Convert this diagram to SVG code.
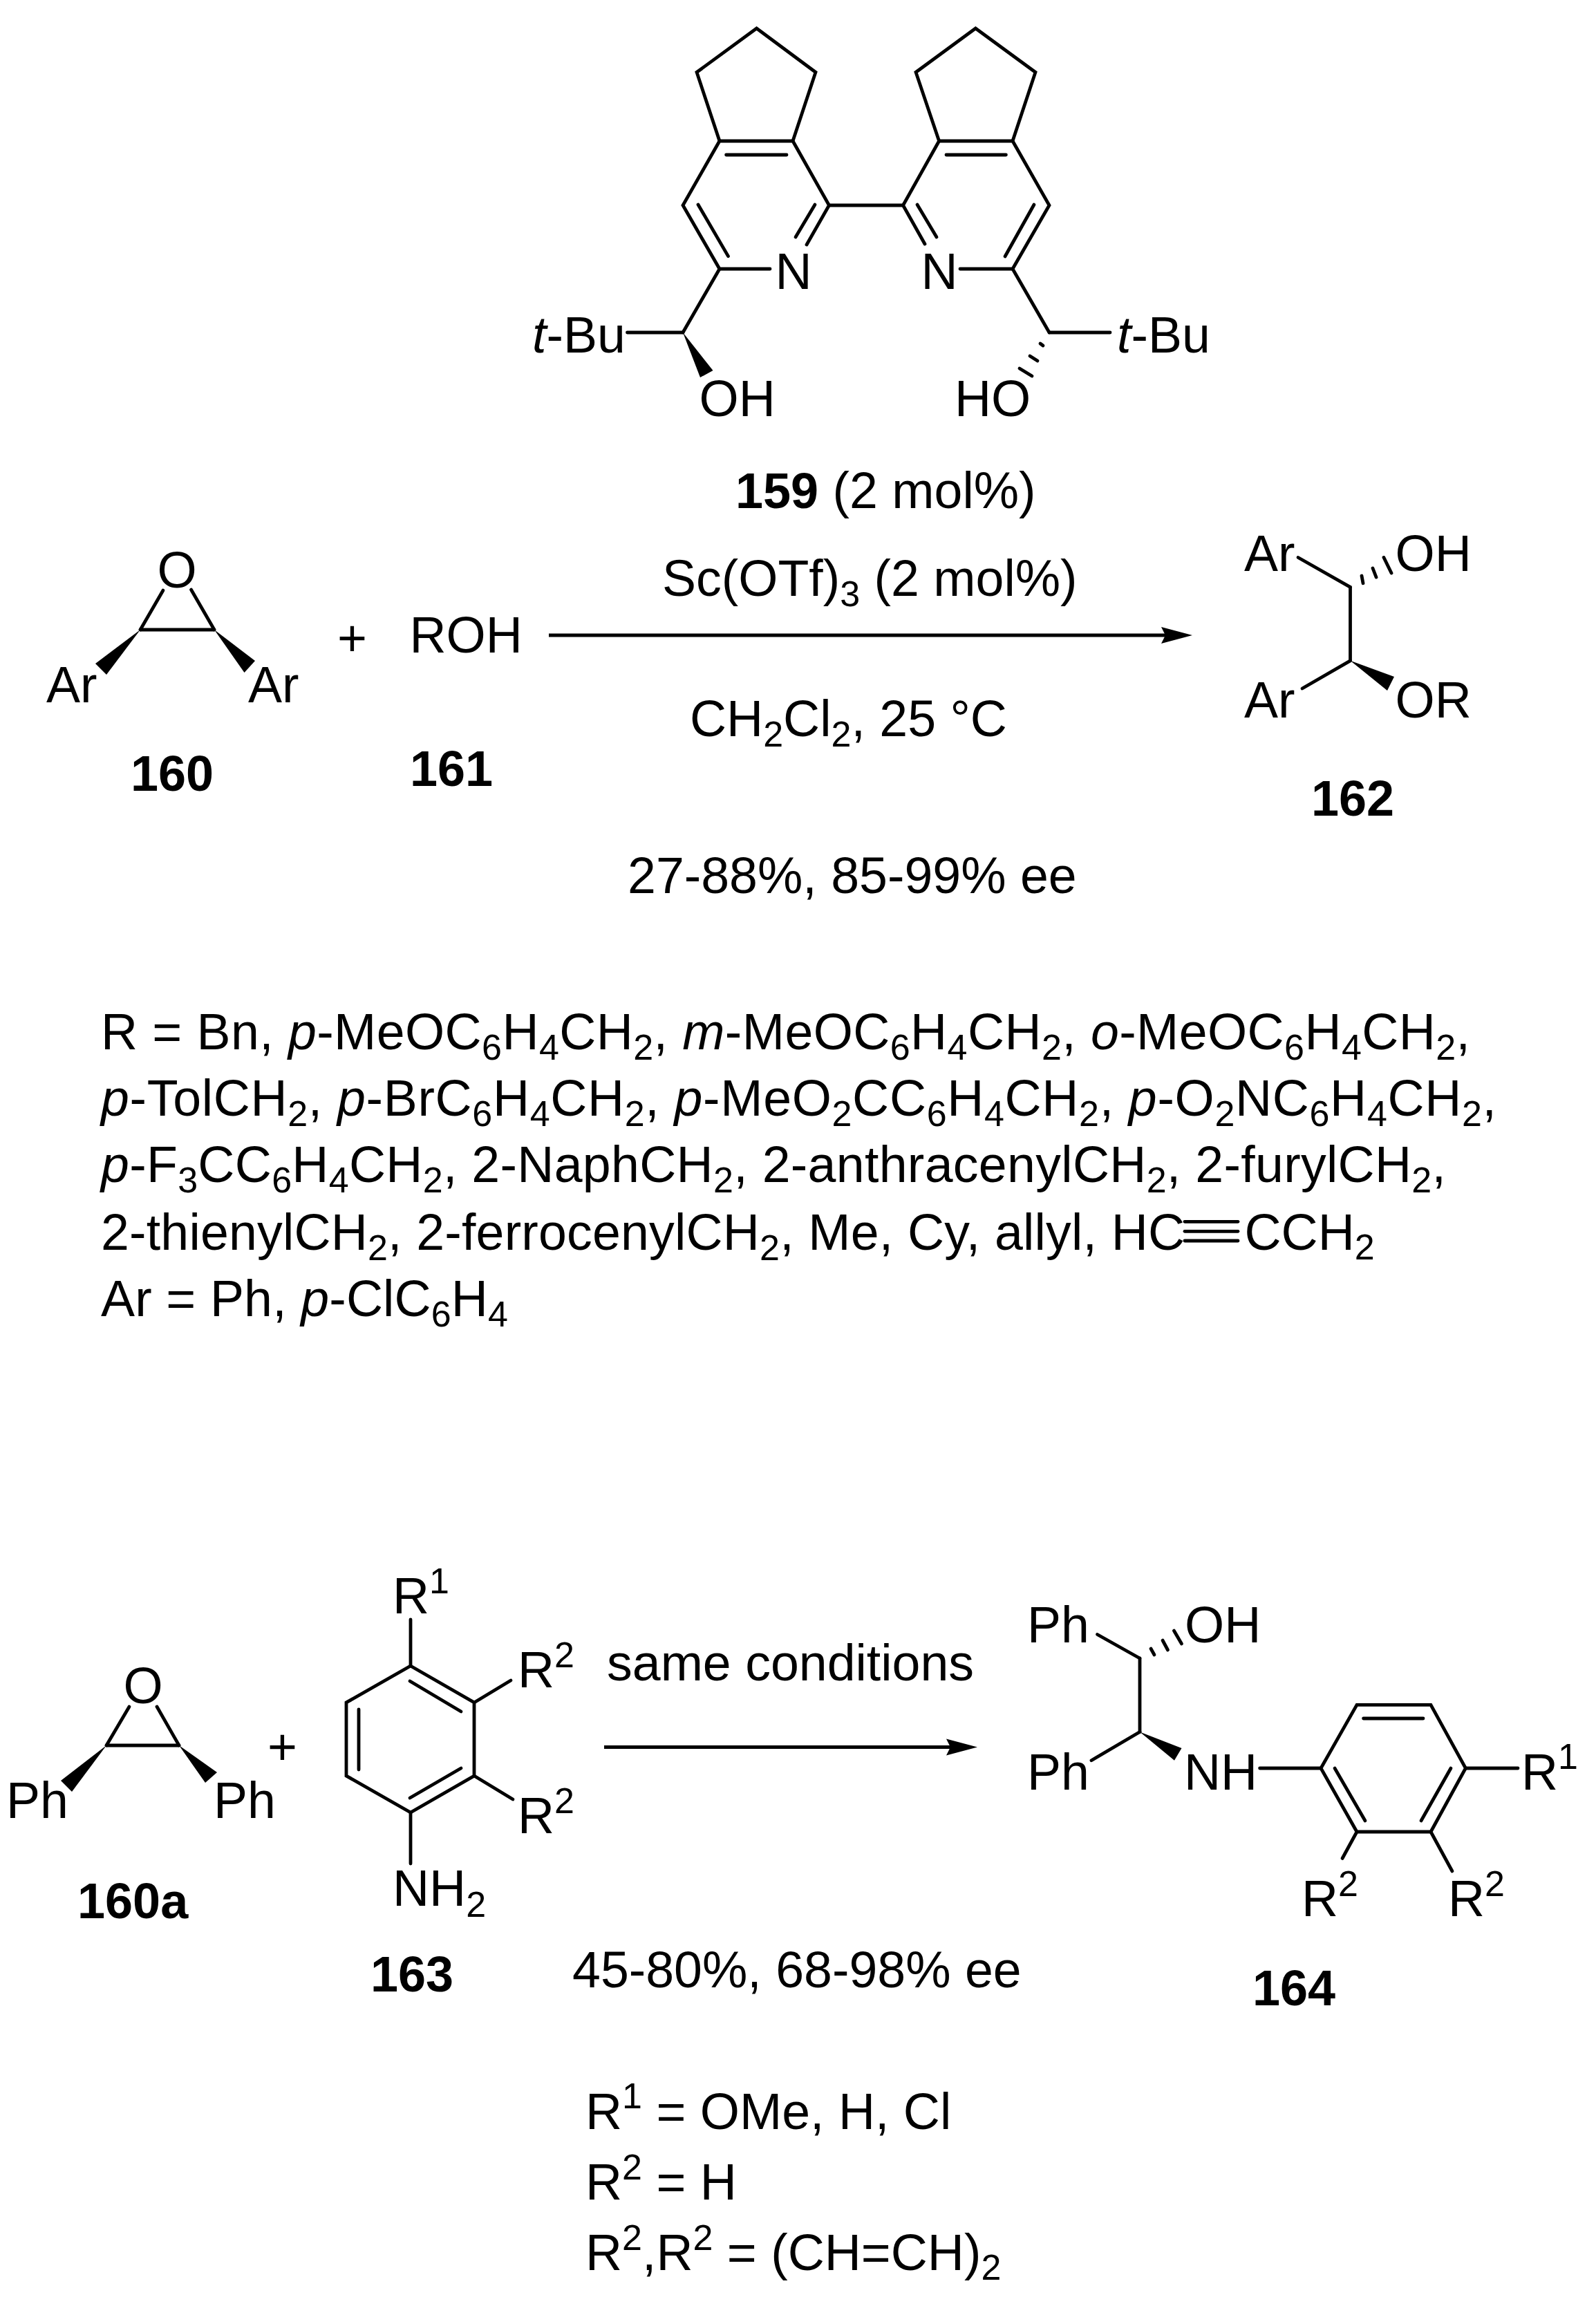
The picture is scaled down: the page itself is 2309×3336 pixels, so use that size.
<svg xmlns="http://www.w3.org/2000/svg" width="2309" height="3336" viewBox="0 0 2309 3336">
<style>
text{font-family:"Liberation Sans",Arial,sans-serif;fill:#000;font-size:73.5px}
.b{font-weight:bold;font-size:72px}
.s{font-size:52px}
.i{font-style:italic}
line,polyline,polygon.r{stroke:#000;stroke-width:4.8;fill:none;stroke-linejoin:miter;stroke-linecap:round}
polygon.w{fill:#000;stroke:none}
.arrow{stroke-width:5;stroke-linecap:butt}
</style>
<defs>
<marker id="head" markerUnits="userSpaceOnUse" markerWidth="46" markerHeight="26" refX="6" refY="13" orient="auto"><path d="M0,1 L45,13 L0,25 L6,13 Z" fill="#000"/></marker>
</defs>
<rect width="2309" height="3336" fill="#fff"/>
<g id="connectors">
<line class="arrow" x1="794" y1="919" x2="1686" y2="919" marker-end="url(#head)"/>
<line class="arrow" x1="874" y1="2527.5" x2="1375" y2="2527.5" marker-end="url(#head)"/>
</g>
<g id="node-159">
<polyline points="1041,204 1008,104.5 1094.6,41 1180,104.5 1147,204"/>
<polyline points="1358.6,204 1325,104.5 1411.4,41 1498,104.5 1465,204"/>
<polyline points="1167,354 1199.5,297 1147,204 1041,204 988,297 1041,389 1114,389"/>
<polyline points="1338,353 1306.5,297 1358.6,204 1465,204 1518,297 1465,389 1389,389"/>
<line x1="1199.5" y1="297" x2="1306.5" y2="297"/>
<line x1="1050.6" y1="224" x2="1138" y2="224"/>
<line x1="1369" y1="224" x2="1455.4" y2="224"/>
<line x1="1010" y1="296" x2="1053.5" y2="370.6"/>
<line x1="1179" y1="296" x2="1151" y2="343"/>
<line x1="1327" y1="296" x2="1355" y2="343"/>
<line x1="1496" y1="296" x2="1454" y2="371"/>
<line x1="1041" y1="389" x2="988" y2="481"/>
<line x1="1465" y1="389" x2="1518" y2="481"/>
<line x1="988" y1="481" x2="907.5" y2="481"/>
<line x1="1518" y1="481" x2="1606" y2="481"/>
<polygon class="w" points="988,481 1031.5,536 1013,546"/>
<line x1="1505" y1="497" x2="1509" y2="500"/>
<line x1="1490" y1="515" x2="1501" y2="522"/>
<line x1="1475" y1="533" x2="1493" y2="544"/>
<text x="1121.4" y="418">N</text>
<text x="1332.4" y="418">N</text>
<text x="770" y="510"><tspan class="i">t</tspan>-Bu</text>
<text x="1616" y="510"><tspan class="i">t</tspan>-Bu</text>
<text x="1011.5" y="602">OH</text>
<text x="1381" y="602">HO</text>
<text x="1064" y="735"><tspan class="b">159</tspan> (2 mol%)</text>
</g>
<g id="node-160">
<line x1="236" y1="854" x2="203" y2="911"/>
<line x1="276.5" y1="853" x2="310" y2="911"/>
<line x1="203" y1="911" x2="310" y2="911"/>
<polygon class="w" points="203,911 138,960 154,976"/>
<polygon class="w" points="310,911 369,956 353.5,973"/>
<text x="227.5" y="850">O</text>
<text x="67" y="1016">Ar</text>
<text x="359" y="1016">Ar</text>
<text class="b" x="189" y="1143.6">160</text>
</g>
<g id="plus-1"><text x="488" y="949">+</text></g>
<g id="node-161">
<text x="592.4" y="943.6">ROH</text>
<text class="b" x="593" y="1137">161</text>
</g>
<g id="conditions-1">
<text x="958" y="862">Sc(OTf)<tspan class="s" dy="15">3</tspan><tspan dy="-15"> (2 mol%)</tspan></text>
<text x="998" y="1064.6">CH<tspan class="s" dy="15">2</tspan><tspan dy="-15">Cl</tspan><tspan class="s" dy="15">2</tspan><tspan dy="-15">, 25 °C</tspan></text>
<text x="908" y="1292">27-88%, 85-99% ee</text>
</g>
<g id="node-162">
<line x1="1878" y1="806.5" x2="1953.5" y2="849.4"/>
<line x1="1953.5" y1="849.4" x2="1953.5" y2="955.8"/>
<line x1="1953.5" y1="955.8" x2="1884" y2="996"/>
<polygon class="w" points="1953.5,955.8 2017,979 2007,999"/>
<line x1="1970" y1="833" x2="1972" y2="843.7"/>
<line x1="1986" y1="822" x2="1991" y2="835"/>
<line x1="2002" y1="806.5" x2="2013" y2="829"/>
<text x="1800" y="825.7">Ar</text>
<text x="2018.5" y="825.7">OH</text>
<text x="1800" y="1038">Ar</text>
<text x="2018.5" y="1038">OR</text>
<text class="b" x="1897" y="1179.7">162</text>
</g>
<g id="definitions-1">
<text x="146" y="1517.5" textLength="1981">R = Bn, <tspan class="i">p</tspan>-MeOC<tspan class="s" dy="15">6</tspan><tspan dy="-15">H</tspan><tspan class="s" dy="15">4</tspan><tspan dy="-15">CH</tspan><tspan class="s" dy="15">2</tspan><tspan dy="-15">, </tspan><tspan class="i">m</tspan>-MeOC<tspan class="s" dy="15">6</tspan><tspan dy="-15">H</tspan><tspan class="s" dy="15">4</tspan><tspan dy="-15">CH</tspan><tspan class="s" dy="15">2</tspan><tspan dy="-15">, </tspan><tspan class="i">o</tspan>-MeOC<tspan class="s" dy="15">6</tspan><tspan dy="-15">H</tspan><tspan class="s" dy="15">4</tspan><tspan dy="-15">CH</tspan><tspan class="s" dy="15">2</tspan><tspan dy="-15">,</tspan></text>
<text x="146" y="1614" textLength="2019"><tspan class="i">p</tspan>-TolCH<tspan class="s" dy="15">2</tspan><tspan dy="-15">, </tspan><tspan class="i">p</tspan>-BrC<tspan class="s" dy="15">6</tspan><tspan dy="-15">H</tspan><tspan class="s" dy="15">4</tspan><tspan dy="-15">CH</tspan><tspan class="s" dy="15">2</tspan><tspan dy="-15">, </tspan><tspan class="i">p</tspan>-MeO<tspan class="s" dy="15">2</tspan><tspan dy="-15">CC</tspan><tspan class="s" dy="15">6</tspan><tspan dy="-15">H</tspan><tspan class="s" dy="15">4</tspan><tspan dy="-15">CH</tspan><tspan class="s" dy="15">2</tspan><tspan dy="-15">, </tspan><tspan class="i">p</tspan>-O<tspan class="s" dy="15">2</tspan><tspan dy="-15">NC</tspan><tspan class="s" dy="15">6</tspan><tspan dy="-15">H</tspan><tspan class="s" dy="15">4</tspan><tspan dy="-15">CH</tspan><tspan class="s" dy="15">2</tspan><tspan dy="-15">,</tspan></text>
<text x="146" y="1710" textLength="1946"><tspan class="i">p</tspan>-F<tspan class="s" dy="15">3</tspan><tspan dy="-15">CC</tspan><tspan class="s" dy="15">6</tspan><tspan dy="-15">H</tspan><tspan class="s" dy="15">4</tspan><tspan dy="-15">CH</tspan><tspan class="s" dy="15">2</tspan><tspan dy="-15">, 2-NaphCH</tspan><tspan class="s" dy="15">2</tspan><tspan dy="-15">, 2-anthracenylCH</tspan><tspan class="s" dy="15">2</tspan><tspan dy="-15">, 2-furylCH</tspan><tspan class="s" dy="15">2</tspan><tspan dy="-15">,</tspan></text>
<text x="146" y="1807.7" textLength="1568">2-thienylCH<tspan class="s" dy="15">2</tspan><tspan dy="-15">, 2-ferrocenylCH</tspan><tspan class="s" dy="15">2</tspan><tspan dy="-15">, Me, Cy, allyl, HC</tspan></text>
<text x="1800.5" y="1807.7">CCH<tspan class="s" dy="14.5">2</tspan></text>
<line x1="1714" y1="1767.3" x2="1791" y2="1767.3"/>
<line x1="1714" y1="1781.3" x2="1791" y2="1781.3"/>
<line x1="1714" y1="1795" x2="1791" y2="1795"/>
<text x="146" y="1904" textLength="589">Ar = Ph, <tspan class="i">p</tspan>-ClC<tspan class="s" dy="15">6</tspan><tspan dy="-15">H</tspan><tspan class="s" dy="15">4</tspan></text>
</g>
<g id="node-160a">
<line x1="187" y1="2469" x2="154" y2="2525"/>
<line x1="227" y1="2469" x2="259" y2="2525"/>
<line x1="154" y1="2525" x2="259" y2="2525"/>
<polygon class="w" points="154,2525 88,2576 104,2592"/>
<polygon class="w" points="259,2525 314,2564 297,2579"/>
<text x="178.5" y="2464">O</text>
<text x="9" y="2630">Ph</text>
<text x="309" y="2630">Ph</text>
<text class="b" x="112" y="2775">160a</text>
</g>
<g id="plus-2"><text x="387" y="2553">+</text></g>
<g id="node-163">
<polygon class="r" points="594,2410 686,2463 686,2569 594,2622 501,2569 501,2463"/>
<line x1="593" y1="2432" x2="667" y2="2476"/>
<line x1="519" y1="2473" x2="519" y2="2560"/>
<line x1="593" y1="2601" x2="667" y2="2558"/>
<line x1="594" y1="2343" x2="594" y2="2410"/>
<line x1="686" y1="2463" x2="739" y2="2431"/>
<line x1="686" y1="2569" x2="742" y2="2603"/>
<line x1="594" y1="2622" x2="594" y2="2696"/>
<text x="568" y="2334">R<tspan class="s" dy="-29">1</tspan></text>
<text x="749" y="2440.6">R<tspan class="s" dy="-29">2</tspan></text>
<text x="749" y="2651.6">R<tspan class="s" dy="-29">2</tspan></text>
<text x="568" y="2757">NH<tspan class="s" dy="16">2</tspan></text>
<text class="b" x="536" y="2881">163</text>
</g>
<g id="conditions-2">
<text x="878" y="2431">same conditions</text>
<text x="828" y="2875">45-80%, 68-98% ee</text>
</g>
<g id="node-164">
<line x1="1587.5" y1="2364.5" x2="1649" y2="2399"/>
<line x1="1649" y1="2399" x2="1649" y2="2505.5"/>
<line x1="1649" y1="2505.5" x2="1579" y2="2546.7"/>
<polygon class="w" points="1649,2505.5 1709.5,2529 1699,2546.7"/>
<line x1="1665" y1="2385" x2="1670" y2="2394"/>
<line x1="1682" y1="2373" x2="1689.5" y2="2387"/>
<line x1="1698.4" y1="2359" x2="1709.5" y2="2378"/>
<polygon class="r" points="1911,2558 1963,2466.4 2070,2466.4 2120.4,2558 2070,2650 1963,2650"/>
<line x1="1972.6" y1="2486" x2="2059" y2="2486"/>
<line x1="1931" y1="2558" x2="1975" y2="2634"/>
<line x1="2099" y1="2558" x2="2056" y2="2634"/>
<line x1="1822.6" y1="2558" x2="1911" y2="2558"/>
<line x1="2120.4" y1="2558" x2="2196" y2="2558"/>
<line x1="1963" y1="2650" x2="1942" y2="2688.5"/>
<line x1="2070" y1="2650" x2="2101" y2="2707"/>
<text x="1486" y="2376">Ph</text>
<text x="1714" y="2376">OH</text>
<text x="1486" y="2588.7">Ph</text>
<text x="1713" y="2588.7">NH</text>
<text x="2201" y="2588.7">R<tspan class="s" dy="-30">1</tspan></text>
<text x="1883" y="2772">R<tspan class="s" dy="-29">2</tspan></text>
<text x="2095" y="2772">R<tspan class="s" dy="-29">2</tspan></text>
<text class="b" x="1812" y="2901">164</text>
</g>
<g id="definitions-2">
<text x="847" y="3079.5">R<tspan class="s" dy="-29.5">1</tspan><tspan dy="29.5"> = OMe, H, Cl</tspan></text>
<text x="847" y="3182">R<tspan class="s" dy="-29.5">2</tspan><tspan dy="29.5"> = H</tspan></text>
<text x="847" y="3284.4">R<tspan class="s" dy="-29.5">2</tspan><tspan dy="29.5">,R</tspan><tspan class="s" dy="-29.5">2</tspan><tspan dy="29.5"> = (CH=CH)</tspan><tspan class="s" dy="14">2</tspan></text>
</g>
</svg>
